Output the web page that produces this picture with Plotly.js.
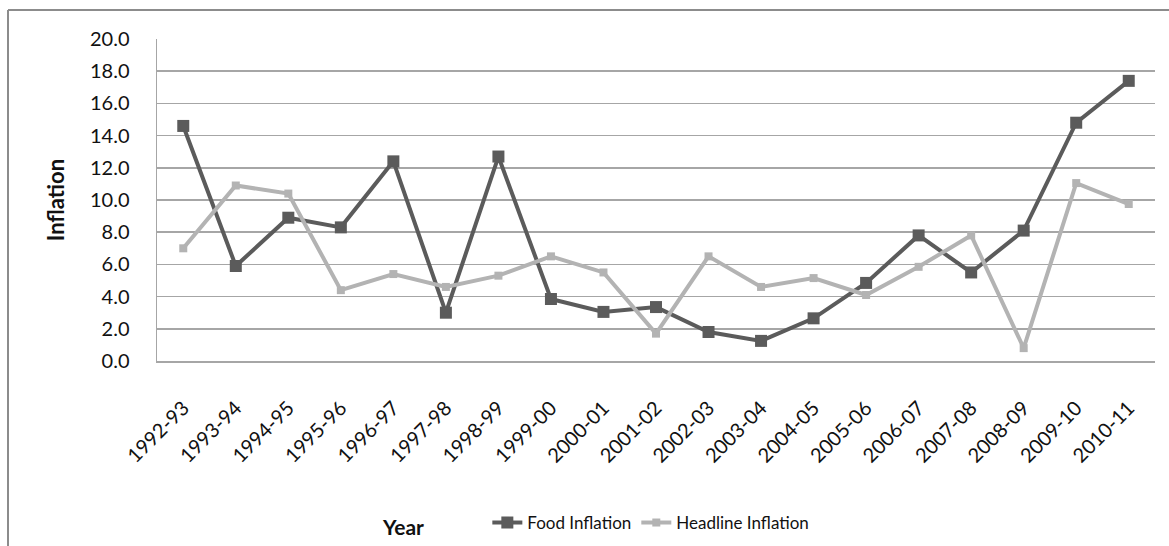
<!DOCTYPE html>
<html>
<head>
<meta charset="utf-8">
<script src="https://cdn.plot.ly/plotly-3.0.1.min.js"></script>
<style>
html,body{margin:0;padding:0;background:#fff;}
#chart{width:1169px;height:546px;}
</style>
</head>
<body>
<div id="chart"></div>
<script>
const years = ["1992-93","1993-94","1994-95","1995-96","1996-97","1997-98","1998-99","1999-00","2000-01","2001-02","2002-03","2003-04","2004-05","2005-06","2006-07","2007-08","2008-09","2009-10","2010-11"];
const foodInflation = [14.6,5.9,8.9,8.3,12.4,3.0,12.7,3.85,3.05,3.35,1.8,1.25,2.65,4.85,7.8,5.5,8.1,14.8,17.4];
const headlineInflation = [7.0,10.9,10.4,4.4,5.4,4.6,5.3,6.5,5.5,1.7,6.5,4.6,5.15,4.1,5.85,7.8,0.8,11.05,9.75];
const yTicks = [0,2,4,6,8,10,12,14,16,18,20];

const FONT = "Lato, 'Open Sans', sans-serif";

const traces = [
  {
    x: years, y: foodInflation, name: "Food Inflation", type: "scatter", mode: "lines+markers",
    line: {color: "#5b5b5b", width: 4},
    marker: {symbol: "square", size: 12, color: "#5b5b5b"}
  },
  {
    x: years, y: headlineInflation, name: "Headline Inflation", type: "scatter", mode: "lines+markers",
    line: {color: "#b3b3b3", width: 4},
    marker: {symbol: "square", size: 8, color: "#b3b3b3"}
  }
];

const layout = {
  width: 1169, height: 546,
  margin: {l: 157, r: 14, t: 39, b: 185, autoexpand: false},
  paper_bgcolor: "#fff", plot_bgcolor: "#fff",
  font: {family: FONT, color: "#111"},
  showlegend: true,
  legend: {
    orientation: "h", x: 0.331, xanchor: "left", y: -0.503, yanchor: "middle",
    font: {family: FONT, size: 17, color: "#111"}, bgcolor: "rgba(0,0,0,0)"
  },
  xaxis: {
    type: "category", tickangle: -45, showgrid: false, zeroline: false, automargin: false,
    showline: true, linecolor: "#a6a6a6", linewidth: 1.5,
    ticks: "outside", ticklen: 26, tickcolor: "rgba(0,0,0,0)",
    tickfont: {family: FONT, size: 20, color: "#111"},
    range: [-0.5, years.length - 0.5], fixedrange: true
  },
  yaxis: {
    range: [0, 20], tickvals: yTicks, ticktext: yTicks.map(v => v.toFixed(1)), automargin: false,
    showgrid: true, gridcolor: "#a6a6a6", gridwidth: 1.5,
    zeroline: false, showline: true, linecolor: "#a6a6a6", linewidth: 1.5,
    ticks: "outside", ticklen: 22, tickcolor: "rgba(0,0,0,0)",
    tickfont: {family: FONT, size: 20, color: "#111"}, fixedrange: true
  },
  annotations: [
    {text: "<b>Inflation</b>", xref: "paper", yref: "paper", x: -0.102, y: 0.5,
     textangle: -90, showarrow: false, xanchor: "center", yanchor: "middle",
     font: {family: FONT, size: 22, color: "#111"}},
    {text: "<b>Year</b>", xref: "paper", yref: "paper", x: 0.2465, y: -0.515,
     showarrow: false, xanchor: "center", yanchor: "middle",
     font: {family: FONT, size: 21, color: "#111"}}
  ],
  shapes: [
    {type: "line", xref: "paper", yref: "paper", x0: -0.1493, x1: 1.05, y0: 1.09, y1: 1.09,
     line: {color: "#8c8c8c", width: 2}},
    {type: "line", xref: "paper", yref: "paper", x0: -0.1493, x1: -0.1493, y0: 1.09, y1: -0.7,
     line: {color: "#8c8c8c", width: 2}}
  ]
};

Plotly.newPlot("chart", traces, layout, {staticPlot: true, displayModeBar: false});
</script>
</body>
</html>
